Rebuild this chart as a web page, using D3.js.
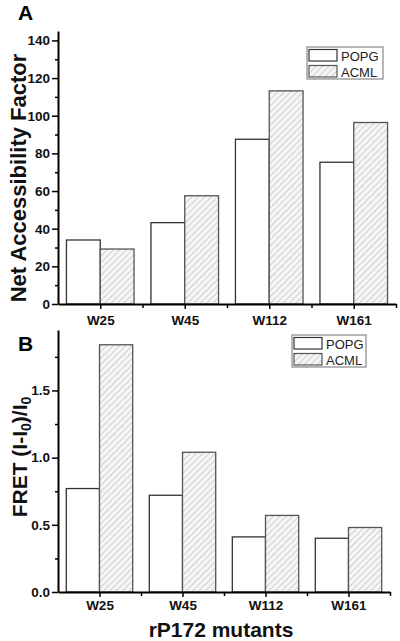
<!DOCTYPE html>
<html><head><meta charset="utf-8">
<script src="https://cdn.jsdelivr.net/npm/d3@7"></script>
<style>body{margin:0;background:#fff}svg{display:block}text{font-family:"Liberation Sans",Arial,sans-serif}</style>
</head><body>
<script>
const categories = ["W25","W45","W112","W161"];
const seriesNames = ["POPG","ACML"];
const accPOPG = [34, 43.2, 87.5, 75.3];
const accACML = [29.2, 57.5, 113.2, 96.4];
const fretPOPG = [0.77, 0.72, 0.41, 0.40];
const fretACML = [1.84, 1.04, 0.57, 0.48];
const accTicks = [0,20,40,60,80,100,120,140];
const fretTicks = [0.0,0.5,1.0,1.5];

const W=400,H=641;
const svg=d3.select("body").append("svg").attr("width",W).attr("height",H);
const defs=svg.append("defs");
const pat=defs.append("pattern").attr("id","hatch").attr("patternUnits","userSpaceOnUse")
  .attr("width",4.5).attr("height",4.5).attr("patternTransform","rotate(45)");
pat.append("rect").attr("width",4.5).attr("height",4.5).attr("fill","#f5f5f5");
pat.append("line").attr("x1",0).attr("y1",0).attr("x2",0).attr("y2",4.5).attr("stroke","#b3b3b3").attr("stroke-width",1.1);

function panel(o){
  const g=svg.append("g");
  const x=d3.scaleLinear().domain([0.5,4.5]).range([o.x0,o.x1]);
  const y=d3.scaleLinear().domain([0,o.ymax]).range([o.y0,o.y1]);
  const data=categories.map((c,i)=>({c,i,a:o.a[i],b:o.b[i]}));
  g.selectAll(".pa").data(data).join("rect")
    .attr("x",d=>x(d.i+1-0.4)).attr("width",x(1.4)-x(1))
    .attr("y",d=>y(d.a)).attr("height",d=>y(0)-y(d.a))
    .attr("fill","#fff").attr("stroke","#333").attr("stroke-width",1.3);
  g.selectAll(".pb").data(data).join("rect")
    .attr("x",d=>x(d.i+1)).attr("width",x(1.4)-x(1))
    .attr("y",d=>y(d.b)).attr("height",d=>y(0)-y(d.b))
    .attr("fill","url(#hatch)").attr("stroke","#555").attr("stroke-width",1.3);
  const ya=g.append("g").attr("transform",`translate(${o.x0},0)`)
    .call(d3.axisLeft(y).tickValues(o.ticks).tickSize(6).tickSizeOuter(0).tickFormat(o.fmt));
  const minor=[];
  for(let k=0;k<o.ticks.length;k++){const v=o.ticks[k]+o.minorStep; if(v<o.ymax) minor.push(v);}
  g.append("g").attr("transform",`translate(${o.x0},0)`)
    .call(d3.axisLeft(y).tickValues(minor).tickSize(3).tickSizeOuter(0).tickFormat(""))
    .select(".domain").remove();
  const xa=g.append("g").attr("transform",`translate(0,${o.y0})`)
    .call(d3.axisBottom(x).tickValues([1,2,3,4]).tickSize(5).tickSizeOuter(0).tickFormat(d=>categories[d-1]));
  g.append("g").attr("transform",`translate(0,${o.y0})`)
    .call(d3.axisBottom(x).tickValues([1.5,2.5,3.5,4.5]).tickSize(4).tickSizeOuter(0).tickFormat(""))
    .select(".domain").remove();
  g.selectAll(".domain").attr("stroke","#000").attr("stroke-width",2);
  g.selectAll(".tick line").attr("stroke","#000").attr("stroke-width",1.5);
  ya.selectAll(".tick text").attr("font-size",13.5).attr("font-weight","bold").attr("fill","#111").attr("x",-8);
  xa.selectAll(".tick text").attr("font-size",13.5).attr("font-weight","bold").attr("fill","#111").attr("dy",0).attr("y",o.xlabY-o.y0);
  const lg=g.append("g");
  lg.append("rect").attr("x",o.lx).attr("y",o.ly).attr("width",o.lw).attr("height",32)
    .attr("fill","#fff").attr("stroke","#888").attr("stroke-width",1.2);
  seriesNames.forEach((s,k)=>{
    lg.append("rect").attr("x",o.lx+2).attr("y",o.ly+2.5+k*16).attr("width",28).attr("height",11.5)
      .attr("fill",k?"url(#hatch)":"#fff").attr("stroke",k?"#555":"#333").attr("stroke-width",1.2);
    lg.append("text").attr("x",o.lx+34).attr("y",o.ly+13.5+k*16).attr("font-size",13).attr("fill","#222").text(s);
  });
  g.append("text").attr("x",18).attr("y",o.letterY).attr("font-size",21).attr("font-weight","bold").text(o.letter);
  return g;
}

panel({x0:58,x1:396,y0:304,y1:31,ymax:145,ticks:accTicks,minorStep:10,fmt:d3.format("d"),
  a:accPOPG,b:accACML,xlabY:325,lx:307,ly:47,lw:76,letter:"A",letterY:20});
panel({x0:58,x1:390,y0:592,y1:330,ymax:1.95,ticks:fretTicks,minorStep:0.25,fmt:d3.format(".1f"),
  a:fretPOPG,b:fretACML,xlabY:610,lx:292,ly:335,lw:74,letter:"B",letterY:351});

svg.append("text").attr("transform","translate(26,178) rotate(-90)").attr("text-anchor","middle")
  .attr("font-size",22).attr("font-weight","bold").attr("fill","#111").text("Net Accessibility Factor");
const ft=svg.append("text").attr("transform","translate(27,457) rotate(-90)").attr("text-anchor","middle")
  .attr("font-size",21).attr("font-weight","bold").attr("fill","#111");
ft.append("tspan").text("FRET (I-I");
ft.append("tspan").attr("font-size",14).attr("dy",4).text("0");
ft.append("tspan").attr("dy",-4).text(")/I");
ft.append("tspan").attr("font-size",14).attr("dy",4).text("0");
svg.append("text").attr("x",221).attr("y",637).attr("text-anchor","middle")
  .attr("font-size",21).attr("font-weight","bold").attr("fill","#111").text("rP172 mutants");
</script>
</body></html>
